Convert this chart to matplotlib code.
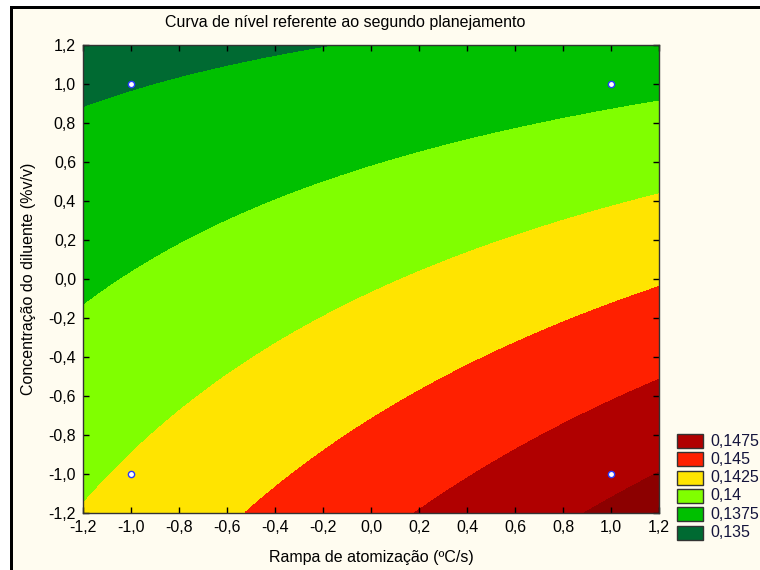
import numpy as np
import matplotlib
matplotlib.use("Agg")
import matplotlib.pyplot as plt
from matplotlib.patches import Rectangle

plt.rcParams["font.family"] = ["Liberation Sans", "DejaVu Sans"]

# fitted response surface: z = b0 + b1*x + b2*y + b12*x*y
b0 = 0.139724
b1 = 0.002137
b2 = -0.003859
b12 = -0.001163

# design points (coded)
design_x = [-1.0, 1.0, -1.0, 1.0]
design_y = [-1.0, -1.0, 1.0, 1.0]

levels = [0.135, 0.1375, 0.14, 0.1425, 0.145, 0.1475]
level_labels = ["0,135", "0,1375", "0,14", "0,1425", "0,145", "0,1475"]
band_colors = ["#006a32", "#00c000", "#80ff00", "#ffe400", "#ff2000", "#b00000", "#8c0000"]

ticks = [-1.2, -1.0, -0.8, -0.6, -0.4, -0.2, 0.0, 0.2, 0.4, 0.6, 0.8, 1.0, 1.2]
tick_labels = [f"{v:.1f}".replace(".", ",") for v in ticks]

W, H = 760, 570
cream = "#fffcf0"
fs = 11.5

fig = plt.figure(figsize=(W / 100, H / 100), dpi=100, facecolor="white")
# cream panel with black frame on left/top
fig.patches.append(Rectangle((13 / W, 0), 1, (H - 9) / H, transform=fig.transFigure,
                             facecolor=cream, edgecolor="none", zorder=-3))
fig.patches.append(Rectangle((10 / W, 0), 3 / W, (H - 6) / H, transform=fig.transFigure,
                             facecolor="black", edgecolor="none", zorder=-2))
fig.patches.append(Rectangle((10 / W, (H - 9) / H), 1, 3 / H, transform=fig.transFigure,
                             facecolor="black", edgecolor="none", zorder=-2))

ax = fig.add_axes([83 / W, 1 - 512.7 / H, 576 / W, 468 / H])
ax.set_facecolor(cream)

gx, gy = np.meshgrid(np.linspace(-1.2, 1.2, 400), np.linspace(-1.2, 1.2, 400))
gz = b0 + b1 * gx + b2 * gy + b12 * gx * gy
ax.contourf(gx, gy, gz, levels=[gz.min() - 1] + levels + [gz.max() + 1], colors=band_colors,
            antialiased=False)

ax.plot(design_x, design_y, linestyle="none", marker="o", markersize=4.5,
        markerfacecolor="white", markeredgecolor="#2a3cff", markeredgewidth=1.0, zorder=5)

ax.set_xlim(-1.2, 1.2)
ax.set_ylim(-1.2, 1.2)
ax.set_xticks(ticks)
ax.set_xticklabels(tick_labels)
ax.set_yticks(ticks)
ax.set_yticklabels(tick_labels)
ax.tick_params(direction="in", length=4, width=1, top=True, right=True, labelsize=fs,
               colors="black", pad=5)
for s in ax.spines.values():
    s.set_color("#333333")
    s.set_linewidth(1)

ax.set_xlabel("Rampa de atomização (ºC/s)", fontsize=fs, labelpad=11)
ax.set_ylabel("Concentração do diluente (%v/v)", fontsize=fs, labelpad=9)
fig.text(345 / W, 1 - 22 / H, "Curva de nível referente ao segundo planejamento",
         ha="center", va="center", fontsize=fs)

# legend (top entry = highest level)
box_x, box_w, box_h = 677, 26, 14
top_y, step = 434, 18.3
for i, (lab, col) in enumerate(zip(level_labels[::-1], band_colors[:-1][::-1])):
    y0 = top_y + i * step
    fig.patches.append(Rectangle((box_x / W, 1 - (y0 + box_h) / H), box_w / W, box_h / H,
                                 transform=fig.transFigure, facecolor=col,
                                 edgecolor="#333333", linewidth=1))
    fig.text(710 / W, 1 - (y0 + box_h / 2) / H, lab, ha="left", va="center",
             fontsize=fs, color="#14143c")

fig.savefig("out.png", dpi=100, facecolor=fig.get_facecolor())
